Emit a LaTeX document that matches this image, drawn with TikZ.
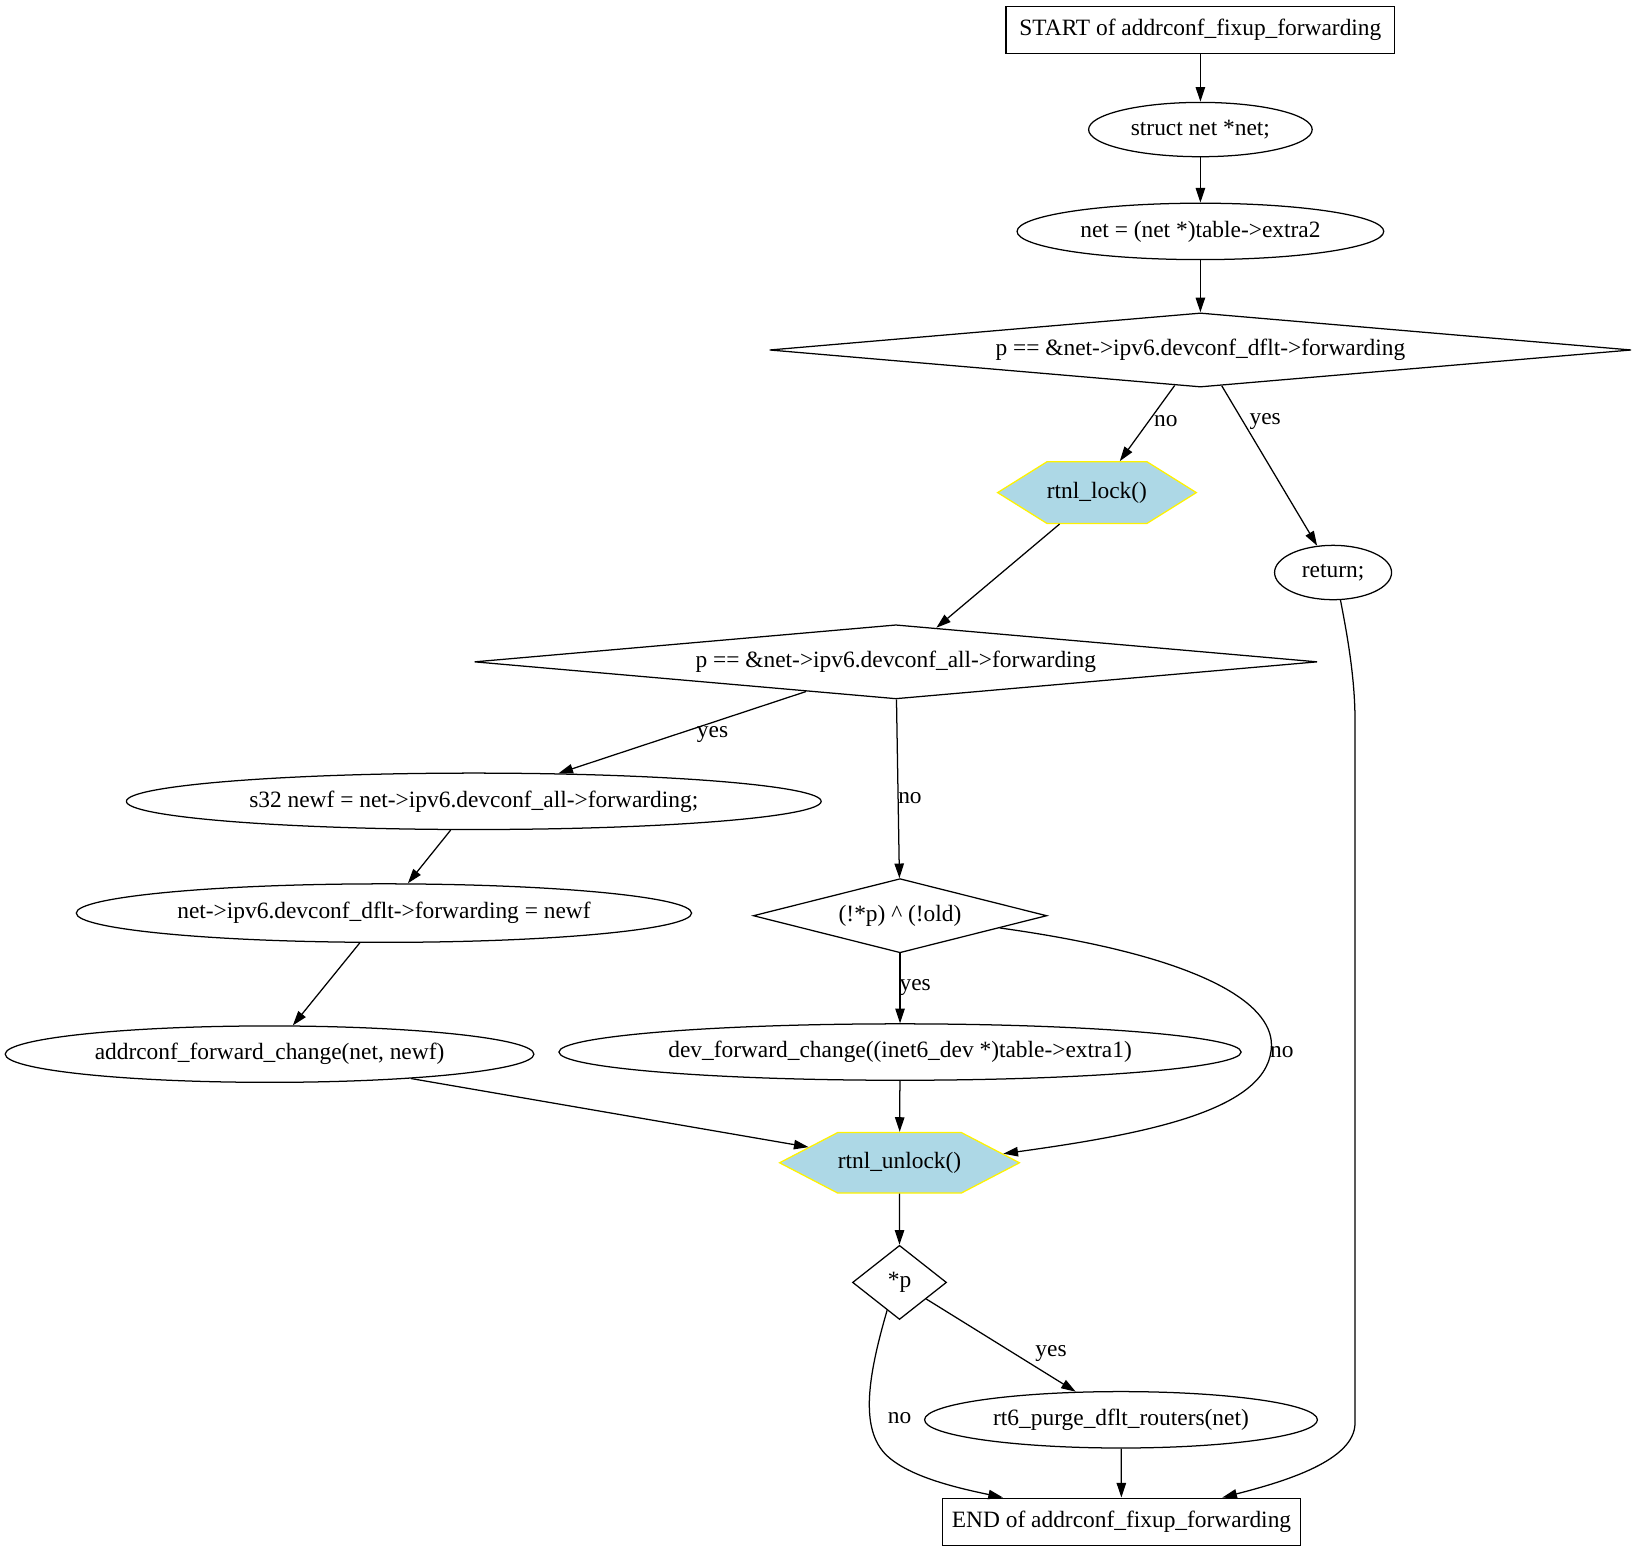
\documentclass[tikz,border=0pt]{standalone}
\usepackage{fontspec}
\setmainfont{Liberation Serif}
\usetikzlibrary{shapes.geometric,shapes.symbols,arrows.meta,calc}
\definecolor{lightblue}{HTML}{ADD8E6}
\begin{document}
\begin{tikzpicture}[x=1pt,y=-1pt,
  font=\fontsize{22.4}{26}\selectfont,
  line width=1.2pt,
  box/.style={draw, rectangle, inner sep=0pt},
  ell/.style={draw, ellipse, inner sep=0pt},
  dia/.style={draw, diamond, inner sep=0pt},
  hex/.style={draw=yellow, fill=lightblue, signal, signal to=east and west, inner sep=0pt},
  lbl/.style={inner sep=0pt},
  conn/.style={-{Triangle[length=14pt,width=9pt]}}]
\useasboundingbox (0,0) rectangle (1565,1483);

% nodes
\node[box, minimum width=372pt, minimum height=45pt] (start) at (1149,28.5) {START of addrconf\_fixup\_forwarding};
\node[ell, minimum width=214pt, minimum height=52pt] (struct) at (1149,124) {struct net *net;};
\node[ell, minimum width=351pt, minimum height=54pt] (neteq) at (1149,221.5) {net = (net *)table->extra2};
\node[dia, aspect=11.6, minimum width=825pt, minimum height=71pt] (d1) at (1149,335) {p == \&net->ipv6.devconf\_dflt->forwarding};
\node[hex, signal pointer angle=64, minimum width=190pt, minimum height=59pt] (lock) at (1050,471.5) {rtnl\_lock()};
\node[ell, minimum width=112pt, minimum height=52pt] (ret) at (1276,548) {return;};
\node[dia, aspect=11.4, minimum width=807pt, minimum height=71pt] (d2) at (857.5,633.5) {p == \&net->ipv6.devconf\_all->forwarding};
\node[ell, minimum width=665pt, minimum height=54pt] (s32) at (453.5,767) {s32 newf = net->ipv6.devconf\_all->forwarding;};
\node[ell, minimum width=589pt, minimum height=56pt] (dflt) at (367.5,874) {net->ipv6.devconf\_dflt->forwarding = newf};
\node[dia, aspect=4, minimum width=281pt, minimum height=71pt] (nd) at (861.5,876.5) {(!*p) \textasciicircum{} (!old)};
\node[ell, minimum width=506pt, minimum height=54pt] (addr) at (258,1009) {addrconf\_forward\_change(net, newf)};
\node[ell, minimum width=653pt, minimum height=54pt] (dev) at (861.5,1007) {dev\_forward\_change((inet6\_dev *)table->extra1)};
\node[hex, signal pointer angle=55, minimum width=228pt, minimum height=58pt] (unlock) at (861,1113) {rtnl\_unlock()};
\node[dia, aspect=1.27, minimum width=90pt, minimum height=71pt] (pd) at (861,1227.5) {*p};
\node[ell, minimum width=376pt, minimum height=54pt] (rt6) at (1073,1359) {rt6\_purge\_dflt\_routers(net)};
\node[box, minimum width=343pt, minimum height=45pt] (END) at (1073.5,1456.5) {END of addrconf\_fixup\_forwarding};

% labels
\node[lbl] (l1) at (1116,403) {no};
\node[lbl] (l2) at (1211,403) {yes};
\node[lbl] (l3) at (682,703) {yes};
\node[lbl] (l4) at (871,764) {no};
\node[lbl] (l5) at (876,945) {yes};
\node[lbl] (l6) at (1227,1007) {no};
\node[lbl] (l7) at (1006,1296) {yes};
\node[lbl] (l8) at (861,1357) {no};

% connectors
\draw[conn] (start) -- (struct);
\draw[conn] (struct) -- (neteq);
\draw[conn] (neteq) -- (d1);
\draw[conn] (d1) -- (lock);
\draw[conn] (d1) -- (ret);
\draw[conn] (lock) -- (d2);
\draw[conn] (ret.-75) .. controls (1290,610) and (1297,650) .. (1297,690) -- (1297,1362) .. controls (1297,1398) and (1230,1418) .. ($(END.north)+(96.5,0)$);
\draw[conn] (d2) -- (s32);
\draw[conn] (d2) -- (nd);
\draw[conn] (s32) -- (dflt);
\draw[conn] (dflt) -- (addr);
\draw[conn] (nd) -- (dev);
\draw[conn] (nd.-7) .. controls (1150,915) and (1217,960) .. (1217,1000) .. controls (1217,1062) and (1100,1085) .. (unlock.5);
\draw[conn] (addr) -- (unlock);
\draw[conn] (dev) -- (unlock);
\draw[conn] (unlock) -- (pd);
\draw[conn] (pd) -- (rt6);
\draw[conn] (pd.-114) .. controls (830,1320) and (822,1372) .. (852,1396) .. controls (875,1415) and (920,1425) .. ($(END.north)+(-113.5,0)$);
\draw[conn] (rt6) -- (END);
\end{tikzpicture}
\end{document}
